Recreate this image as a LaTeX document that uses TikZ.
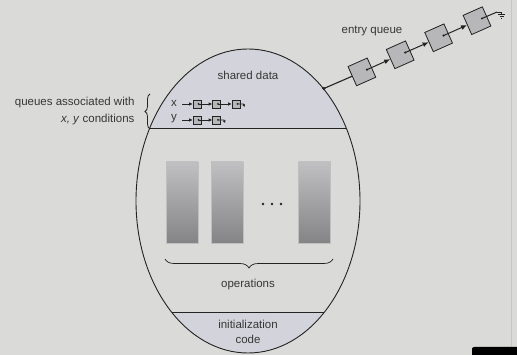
\documentclass[tikz,border=0pt]{standalone}
\usepackage{fontspec}
\setmainfont{Liberation Sans}
\usetikzlibrary{shapes.geometric,decorations.pathreplacing,arrows.meta,calc}
\definecolor{bg}{RGB}{218,218,216}
\definecolor{sect}{RGB}{211,211,219}
\definecolor{ink}{RGB}{35,35,35}
\definecolor{txt}{RGB}{55,55,55}
\definecolor{boxfill}{RGB}{183,183,185}
\definecolor{optop}{RGB}{192,192,194}
\definecolor{opbot}{RGB}{132,132,134}
\definecolor{overlay}{RGB}{35,35,62}
\begin{document}
\begin{tikzpicture}[x=1pt,y=-1pt,
  every node/.style={font=\fontsize{11.5}{15}\selectfont, text=txt},
  qbox/.style={draw=ink, fill=boxfill, minimum size=21pt, inner sep=0pt, line width=0.8pt},
  sbox/.style={draw=ink, fill=boxfill, minimum width=8pt, minimum height=8pt, inner sep=0pt, line width=0.7pt},
  opbox/.style={draw=gray!50, top color=optop, bottom color=opbot, minimum width=32pt, minimum height=81pt, inner sep=0pt, line width=0.5pt},
  bigarrow/.style={draw=ink, line width=1pt, -{Latex[length=6pt,width=5pt]}},
  smallarrow/.style={draw=ink, line width=0.8pt, -{Latex[length=3.5pt,width=3.5pt]}},
  bracestyle/.style={draw=ink, decorate, line width=0.7pt}]
\useasboundingbox (0,0) rectangle (517,355);
\fill[bg] (0,0) rectangle (517,355);
% video overlay artifacts
\draw[gray!45, line width=0.8pt] (511.5,0) -- (511.5,347);
\fill[overlay, rounded corners=2pt] (472,347) rectangle (522,360);
% monitor sections
\begin{scope}
  \clip (248,201) ellipse [x radius=112pt, y radius=152pt];
  \fill[sect] (130,40) rectangle (370,128);
  \fill[sect] (130,312) rectangle (370,360);
  \draw[ink, line width=0.9pt] (130,128) -- (370,128);
  \draw[ink, line width=0.9pt] (130,312) -- (370,312);
\end{scope}
\node[ellipse, draw=ink, line width=0.9pt, minimum width=224pt, minimum height=304pt, inner sep=0pt] (mon) at (248,201) {};
% texts inside
\node (shared) at (248,75) {shared data};
\node (ops) at (248,285) {operations};
\node[align=center, font=\fontsize{11.5}{15}\selectfont] (init) at (248,332) {initialization\\code};
% operations
\node[opbox] (op1) at (182,202.5) {};
\node[opbox] (op2) at (227,202.5) {};
\node[opbox] (op3) at (314.5,202.5) {};
\fill[ink] (263,204) circle (1.4pt) (272,204) circle (1.4pt) (281,204) circle (1.4pt);
\draw[bracestyle, decoration={brace, amplitude=9pt}] (333,259) -- (165,259);
% condition queues
\node[anchor=east, align=right, font=\fontsize{11.5}{17}\selectfont] (qtext) at (138,111.5) {queues associated with\\\textit{x, y} conditions};
\draw[bracestyle, line width=0.8pt, decoration={brace, amplitude=5pt}] (150,129) -- (150,94);
\node (xl) at (174,103) {x};
\node (yl) at (174,119) {y};
\node[sbox] (x1) at (197,104) {};
\node[sbox] (x2) at (216.5,104) {};
\node[sbox] (x3) at (236,104) {};
\node[sbox] (y1) at (197,120) {};
\node[sbox] (y2) at (216.5,120) {};
\draw[smallarrow] (xl.east |- x1.west) ++(2,0) -- (x1.west);
\draw[smallarrow] (yl.east |- y1.west) ++(2,0) -- (y1.west);
\foreach \a/\b in {x1/x2, x2/x3, y1/y2}{
  \fill[ink] ($(\a.center)+(1.5,0)$) circle (1pt);
  \draw[smallarrow] ($(\a.center)+(1.5,0)$) -- (\b.west);
}
\foreach \a in {x3, y2}{
  \fill[ink] ($(\a.center)+(1.5,0)$) circle (1pt);
  \draw[draw=ink, line width=0.8pt, -{Latex[length=2.5pt,width=3pt]}] ($(\a.center)+(1.5,0)$) -- ++(6,0) -- ++(1,3);
}
% entry queue
\node (entry) at (372,31) {entry queue};
\node[qbox, rotate=24] (e1) at (361.9,71.9) {};
\node[qbox, rotate=24] (e2) at (400.2,54.8) {};
\node[qbox, rotate=24] (e3) at (438.6,37.8) {};
\node[qbox, rotate=24] (e4) at (477,20.7) {};
\draw[ink, line width=1.1pt] (mon.56) -- (e1.west);
\fill[ink] (mon.56) circle (1.8pt);
\foreach \a/\b in {e1/e2, e2/e3, e3/e4}{
  \fill[ink] ($(\a.center)!0.5!(\a.east)$) circle (1.2pt);
  \draw[bigarrow] ($(\a.center)!0.5!(\a.east)$) -- (\b.west);
}
\coordinate (gnd) at (497,12);
\fill[ink] ($(e4.center)!0.5!(e4.east)$) circle (1.2pt);
\draw[ink, line width=1pt] ($(e4.center)!0.5!(e4.east)$) -- (gnd);
\draw[ink, line width=0.8pt] (gnd) -- (501.5,12) -- (501.5,14)
  (498,14) -- (505,14) (499.5,16) -- (503.5,16) (501,18) -- (502,18);
\end{tikzpicture}
\end{document}
